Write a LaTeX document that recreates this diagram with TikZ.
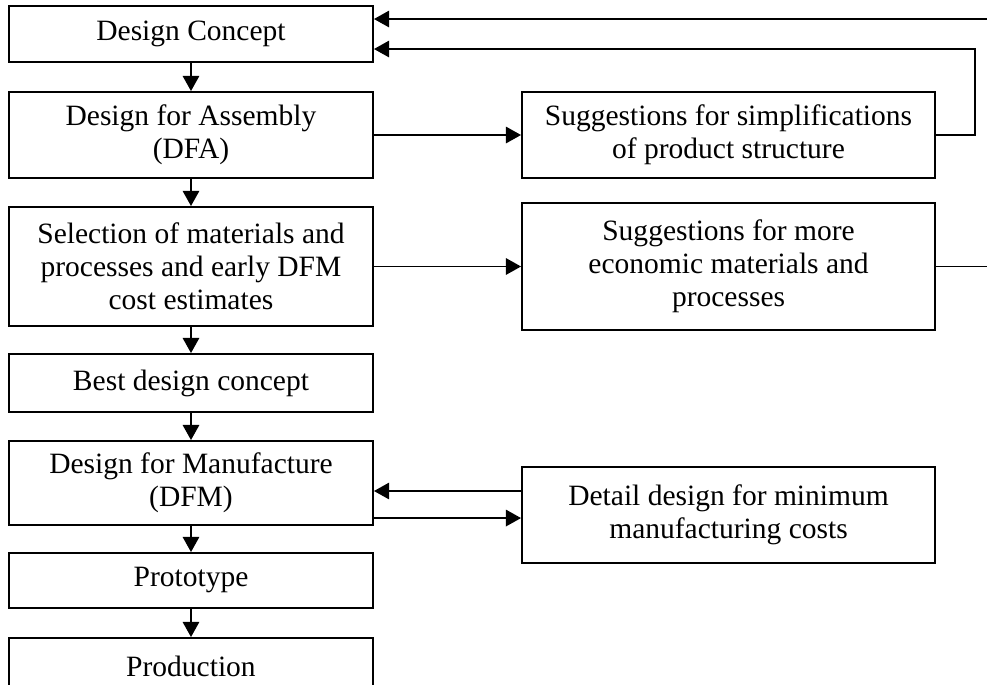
\documentclass[tikz,border=0pt]{standalone}
\usepackage{fontspec}
\setmainfont{Liberation Serif}
\usetikzlibrary{arrows.meta}

\begin{document}
\begin{tikzpicture}[
    box/.style={draw, line width=0.9pt, align=center, inner sep=0pt, font=\fontsize{13.6}{15.2}\selectfont},
    leftbox/.style={box, minimum width=5.897cm},
    rightbox/.style={box, minimum width=6.691cm},
    arr/.style={line width=0.8pt, -{Triangle[length=7pt,width=7.6pt]}}
  ]
    \clip (0,0) rectangle (15.989,-11.081);
    % main flow
    \node[leftbox, minimum height=0.907cm] (dc) at (3.094,-0.551) {Design Concept};
    \node[leftbox, minimum height=1.393cm] (dfa) at (3.094,-2.187) {Design for Assembly\\(DFA)};
    \node[leftbox, minimum height=1.928cm] (sel) at (3.094,-4.317) {Selection of materials and\\processes and early DFM\\cost estimates};
    \node[leftbox, minimum height=0.940cm] (best) at (3.094,-6.205) {Best design concept};
    \node[leftbox, minimum height=1.361cm] (dfm) at (3.094,-7.825) {Design for Manufacture\\(DFM)};
    \node[leftbox, minimum height=0.891cm] (proto) at (3.094,-9.404) {Prototype};
    \node[leftbox, minimum height=0.907cm] (prod) at (3.094,-10.789) {Production};
    % feedback boxes
    \node[rightbox, minimum height=1.393cm] (simp) at (11.802,-2.187) {Suggestions for simplifications\\of product structure};
    \node[rightbox, minimum height=2.057cm] (econ) at (11.802,-4.317) {Suggestions for more\\economic materials and\\processes};
    \node[rightbox, minimum height=1.555cm] (detail) at (11.802,-8.343) {Detail design for minimum\\manufacturing costs};
    \draw[arr] (dc) -- (dfa);
    \draw[arr] (dfa) -- (sel);
    \draw[arr] (sel) -- (best);
    \draw[arr] (best) -- (dfm);
    \draw[arr] (dfm) -- (proto);
    \draw[arr] (proto) -- (prod);
    \draw[arr] (dfa) -- (simp);
    \draw[arr] (sel) -- (econ);
    \draw[arr] (simp.east) -- ++(0.633,0) |- ([yshift=-0.243cm]dc.east);
    \draw[arr] (econ.east) -- ++(1,0) |- ([yshift=0.243cm]dc.east);
    \draw[arr] ([yshift=0.389cm]detail.west) -- ([yshift=0.389cm]detail.west -| dfm.east);
    \draw[arr] ([yshift=-0.049cm]detail.west -| dfm.east) -- ([yshift=-0.049cm]detail.west);
\end{tikzpicture}
\end{document}
